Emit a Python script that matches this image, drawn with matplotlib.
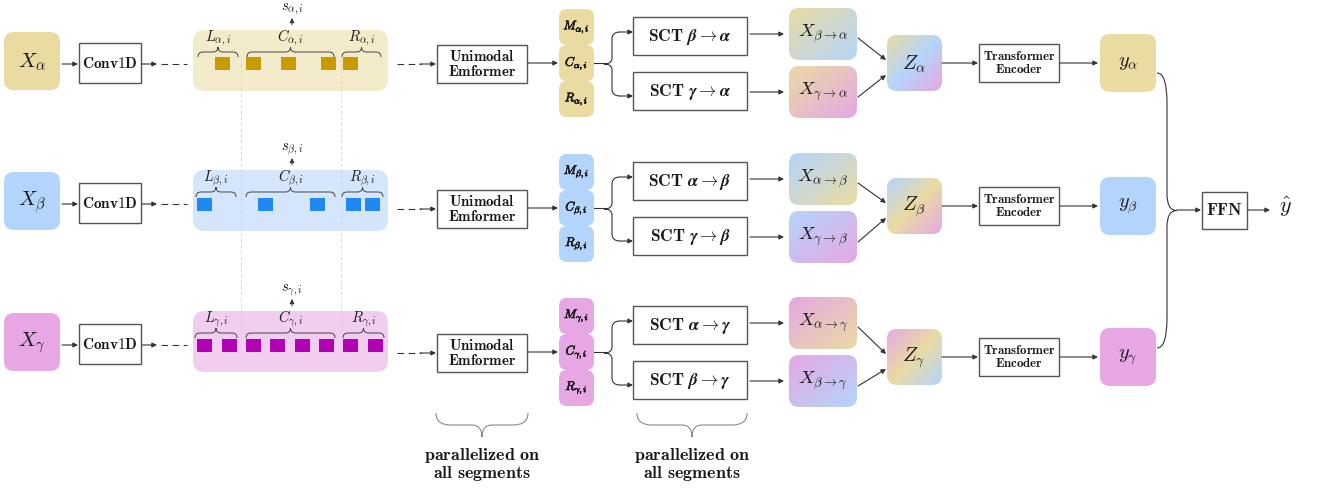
import numpy as np
import matplotlib
matplotlib.use('Agg')
import matplotlib.pyplot as plt
import matplotlib.patheffects as pe
from matplotlib.patches import FancyBboxPatch, Rectangle, PathPatch
from matplotlib.path import Path
from matplotlib.colors import to_rgb

plt.rcParams['mathtext.fontset'] = 'cm'
plt.rcParams['font.family'] = ['DejaVu Serif']

# ---- content of the diagram ----
greek = [r'\alpha', r'\beta', r'\gamma']
box_colors = ['#eadba3', '#b4d5fb', '#e6a7e4']
band_colors = ['#f4ebcb', '#d5e6fc', '#f1cdf0']
token_colors = ['#c99b00', '#1f88f2', '#b400b4']
# left edge of each token square in the segment band
token_x = [[215, 246, 281, 321, 343],
           [197, 258, 310, 346, 365],
           [197, 222, 246, 270, 295, 319, 343, 368]]
# L / C / R brace spans
brace_spans = [[(198, 238), (247, 334), (342, 381)],
               [(196, 236), (246, 335), (342, 383)],
               [(195, 237), (246, 335), (343, 384)]]
brace_names = ['L', 'C', 'R']
block_names = ['M', 'C', 'R']
# which modalities feed the two SCT blocks of each row
sct_src = [[1, 2], [0, 2], [0, 1]]
# colour order of the Z gradient boxes
z_order = [[0, 1, 2], [1, 0, 2], [2, 0, 1]]
par_text = ['parallelized on', 'all segments']

# ---- layout (pixels) ----
yl = [61, 201, 342]   # left part row centres
yr = [63, 208, 352]   # middle part row centres
yz = [63, 206, 357]   # Z / encoder / y row centres

fig = plt.figure(figsize=(13.19, 4.90), dpi=100)
ax = fig.add_axes([0, 0, 1, 1])
ax.set_xlim(0, 1319)
ax.set_ylim(490, 0)
ax.axis('off')

LC = '#333333'
TC = '#1a1a1a'
bold_fx = [pe.withStroke(linewidth=0.45, foreground=TC)]


def rbox(x0, y0, x1, y1, fc, r, ec='none', lw=0, z=2):
    p = FancyBboxPatch((x0, y0), x1 - x0, y1 - y0,
                       boxstyle='round,pad=0,rounding_size=%s' % r,
                       fc=fc, ec=ec, lw=lw, zorder=z)
    ax.add_patch(p)
    return p


def plain_box(x0, y0, x1, y1):
    ax.add_patch(Rectangle((x0, y0), x1 - x0, y1 - y0, fc='white',
                           ec='#555555', lw=1.0, zorder=3))


def grad_box(x0, y0, x1, y1, cols, r):
    patch = rbox(x0, y0, x1, y1, 'none', r)
    u = np.linspace(0, 1, 80)
    U, V = np.meshgrid(u, u)
    t = (U + V) / 2
    rgb = np.array([to_rgb(c) for c in cols])
    k = len(cols) - 1
    s = t * k
    idx = np.clip(np.floor(s).astype(int), 0, k - 1)
    f = (s - idx)[..., None]
    img = rgb[idx] * (1 - f) + rgb[idx + 1] * f
    im = ax.imshow(img, extent=(x0, x1, y1, y0), origin='upper',
                   aspect='auto', interpolation='bilinear', zorder=2)
    im.set_clip_path(patch)


def txt(x, y, s, size, **kw):
    ax.text(x, y, s, fontsize=size, ha='center', va='center', color=TC,
            zorder=6, **kw)


def arrow(x0, y0, x1, y1, lw=0.8):
    ax.annotate('', xy=(x1, y1), xytext=(x0, y0),
                arrowprops=dict(arrowstyle='-|>', color=LC, lw=lw,
                                mutation_scale=7, shrinkA=0, shrinkB=0),
                zorder=5)


def hbrace(x0, x1, ye, yt, re, rt, color='#444444', lw=0.7):
    ym = (ye + yt) / 2
    xm = (x0 + x1) / 2
    verts = [(x0, ye), (x0, ym), (x0 + re, ym), (xm - rt, ym), (xm, ym),
             (xm, yt), (xm, ym), (xm + rt, ym), (x1 - re, ym), (x1, ym),
             (x1, ye)]
    codes = [Path.MOVETO, Path.CURVE3, Path.CURVE3, Path.LINETO,
             Path.CURVE3, Path.CURVE3, Path.CURVE3, Path.CURVE3,
             Path.LINETO, Path.CURVE3, Path.CURVE3]
    ax.add_patch(PathPatch(Path(verts, codes), fc='none', ec=color,
                           lw=lw, zorder=5))


def vbrace(xe, xm, xt, y0, y1, re, rt, color=LC, lw=0.8):
    ymid = (y0 + y1) / 2
    verts = [(xe, y0), (xm, y0), (xm, y0 + re), (xm, ymid - rt),
             (xm, ymid), (xt, ymid), (xm, ymid), (xm, ymid + rt),
             (xm, y1 - re), (xm, y1), (xe, y1)]
    codes = [Path.MOVETO, Path.CURVE3, Path.CURVE3, Path.LINETO,
             Path.CURVE3, Path.CURVE3, Path.CURVE3, Path.CURVE3,
             Path.LINETO, Path.CURVE3, Path.CURVE3]
    ax.add_patch(PathPatch(Path(verts, codes), fc='none', ec=color,
                           lw=lw, zorder=5))


# faint vertical segment guides
for gx in (241, 341):
    ax.plot([gx, gx], [58, 334], ls=(0, (4, 3)), color='#d4d4d4',
            lw=0.6, zorder=2.5)

for i, g in enumerate(greek):
    # ---------- left part ----------
    c = yl[i]
    rbox(4, c - 29, 60, c + 29, box_colors[i], 10)
    txt(32, c + 1, r'$X_{%s}$' % g, 15)
    arrow(62, c + 3, 78, c + 3)
    plain_box(79, c - 18, 141, c + 22)
    txt(110, c + 2, r'$\mathbf{Conv1D}$', 11)
    arrow(142, c + 3, 157, c + 3)
    ax.plot([161, 187], [c + 3, c + 3], ls=(0, (6, 4)), color=LC, lw=0.8)

    rbox(193, c - 31, 388, c + 30, band_colors[i], 12, z=1)
    for tx in token_x[i]:
        ax.add_patch(Rectangle((tx, c - 3.5), 15, 13, fc=token_colors[i],
                               ec='none', zorder=3))
    for (b0, b1), nm in zip(brace_spans[i], brace_names):
        hbrace(b0, b1, c - 4, c - 14, 5, 5)
        txt((b0 + b1) / 2, c - 23, r'$%s_{%s,i}$' % (nm, g), 10.5)
    txt(292, c - 52, r'$s_{%s,i}$' % g, 10.5)
    arrow(292, c - 36, 292, c - 43, lw=0.6)

    # ---------- middle part ----------
    m = yr[i]
    ax.plot([397, 421], [m + 1, m + 1], ls=(0, (6, 4)), color=LC, lw=0.8)
    arrow(420, m + 1, 436, m + 1)
    plain_box(437, m - 18, 527, m + 20)
    txt(482, m + 1, r'$\mathbf{Unimodal}$' + '\n' + r'$\mathbf{Emformer}$',
        10.8, linespacing=1.0)
    arrow(528, m, 558, m)

    for k, nm in enumerate(block_names):
        top = m - 54 + 36 * k
        rbox(559, top, 594, top + 36, box_colors[i], 8)
        txt(576.5, top + 18, r'$%s_{%s,i}$' % (nm, g), 9,
            path_effects=bold_fx)

    ax.plot([594, 604], [m, m], color=LC, lw=0.8)
    vbrace(620, 612, 604, m - 31, m + 33, 7, 6)
    arrow(620, m - 31, 633, m - 31)
    arrow(620, m + 33, 633, m + 33)

    for k, src in enumerate(sct_src[i]):
        sc = m - 27 + 55 * k
        plain_box(633, sc - 19, 747, sc + 19)
        txt(690, sc + 1, r'$\mathbf{SCT}\ \boldsymbol{%s\rightarrow %s}$'
            % (greek[src], g), 12.5)
        xc = m - 29 + 58 * k
        arrow(750, xc, 784, xc)
        grad_box(789, xc - 26, 857, xc + 26,
                 [box_colors[i], box_colors[src]], 10)
        txt(823, xc, r'$X_{%s\rightarrow %s}$' % (greek[src], g), 13.5)

    # ---------- right part ----------
    z = yz[i]
    arrow(858, m - 25, 886, z - 3)
    arrow(858, m + 34, 886, z + 12)
    grad_box(887, z - 28, 942, z + 28, [box_colors[j] for j in z_order[i]], 10)
    txt(914, z + 1, r'$Z_{%s}$' % g, 14.5)
    arrow(942, z, 978, z)
    plain_box(979, z - 19, 1059, z + 19)
    txt(1019, z, r'$\mathbf{Transformer}$' + '\n' + r'$\mathbf{Encoder}$',
        9.3, linespacing=0.95)
    arrow(1060, z, 1098, z)
    rbox(1100, z - 29, 1156, z + 29, box_colors[i], 10)
    txt(1128, z, r'$y_{%s}$' % g, 14.5)

# merge of the three predictions
vbrace(1157, 1167, 1177, yz[0] + 10, yz[2] - 9, 30, 16)
arrow(1177, yz[1] + 4, 1201, yz[1] + 4)
plain_box(1202, 192, 1247, 229)
txt(1224.5, 210.5, r'$\mathbf{FFN}$', 12.5)
arrow(1248, 210, 1270, 210)
txt(1285, 207, r'$\hat{y}$', 16)

# "parallelized" braces
for b0, b1 in [(436, 528), (637, 747)]:
    hbrace(b0, b1, 413, 437, 15, 10, color='#8a8a8a', lw=0.8)
    txt((b0 + b1) / 2, 455, r'$\mathbf{parallelized\ on}$', 13)
    txt((b0 + b1) / 2, 473, r'$\mathbf{all\ segments}$', 13)

ax.set_xlim(0, 1319)
ax.set_ylim(490, 0)
fig.savefig('out.png', dpi=100)
